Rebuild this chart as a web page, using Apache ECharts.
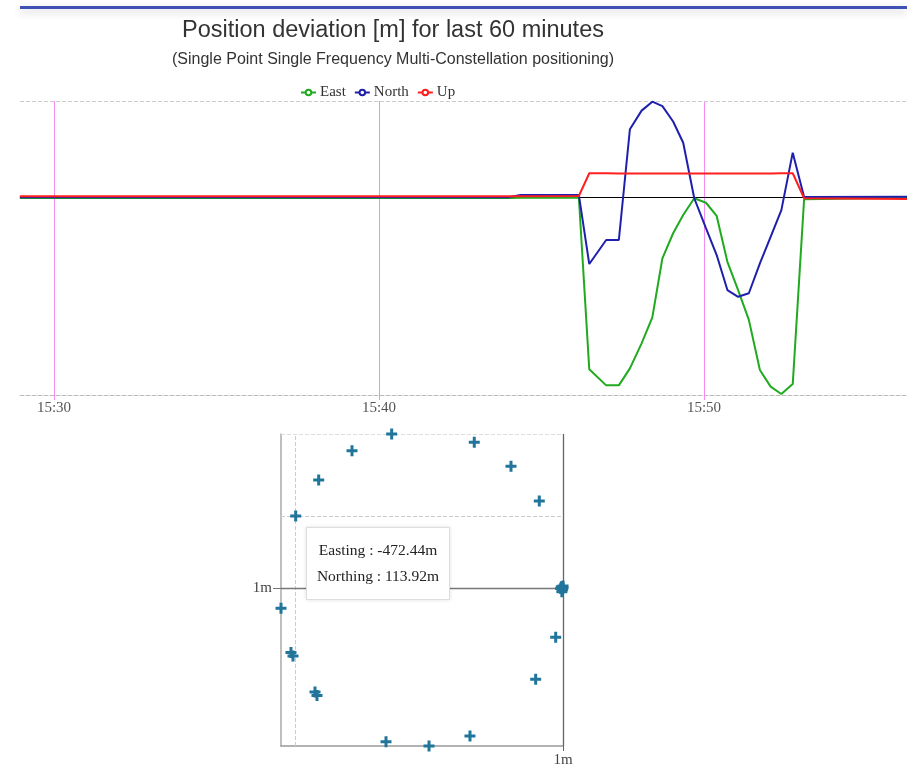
<!DOCTYPE html>
<html><head><meta charset="utf-8">
<script src="https://cdn.jsdelivr.net/npm/echarts@6/dist/echarts.min.js"></script>
<style>
html,body{margin:0;padding:0;background:#fff;}
#chart{position:absolute;left:0;top:0;width:907px;height:765px;}
#bar{position:absolute;left:20px;top:6px;width:887px;height:3px;background:#3f51b5;box-shadow:0 3px 8px rgba(0,0,0,0.22);z-index:5;}
</style></head><body>
<div id="chart"></div><div id="bar"></div>
<script>
// ---- Position deviation time series (minutes after 15:00) ----
const times = [28.95, 34, 40, 44.0, 44.35, 46.15, 46.47, 46.99, 47.38, 47.72, 48.08, 48.41, 48.72, 49.05, 49.36, 49.70, 50.06, 50.39, 50.72, 51.05, 51.38, 51.72, 52.05, 52.38, 52.73, 53.08, 56.3];
const east  = [-2, -2, -2, -2, -1.5, -1.5, -536, -586, -586, -533, -455, -374, -190, -112, -55, -3, -17, -58, -201, -289, -382, -538, -590, -613, -582, -6, -1];
const north = [0, 0, 0, 0.5, 7, 7, -208, -133, -133, 212, 270, 298, 284, 236, 170, -3, -96, -180, -289, -310, -299, -206, -123, -40, 139, 1, 2];
const up    = [3, 3, 3, 3, 3, 4, 75, 75, 74, 74, 74, 74, 74, 74, 74, 74, 74, 74, 74, 74, 74, 74, 74, 75, 75, -3, -5];
const tickMinutes = [30, 40, 50];
const tickLabels = ['15:30', '15:40', '15:50'];
const legendNames = ['East', 'North', 'Up'];

// ---- Scatter of positions (m) ----
const posEast  = [-302.8, -156.8, -372.9, -91.9, -431.8, -41.9, -472.44, 0, -3, -1, -2, 0, -4, -498.4, -12.9, -480.8, -477.2, -48.3, -438.3, -434.8, -164.4, -312.8, -236.8];
const posNorth = [243.6, 230.5, 217.2, 192.5, 170.9, 137.6, 113.92, 0, 2, -3, -6, 3, -1, -32.1, -78, -102, -107.6, -144.4, -164.5, -170.1, -234.1, -243.2, -250];
const tipIndex = 6;
const scaleTickValues = [0];
const scaleTickLabel = '1m';

const pair = (xs, ys) => xs.map((x, i) => [x, ys[i]]);
const Y_MIN = -616, Y_MAX = 300, X_MIN = 28.954, X_MAX = 56.246;
const serif = 'Liberation Serif';

function lineSeries(name, vals, color, extra) {
  return Object.assign({
    type: 'line', name, data: pair(times, vals), xAxisIndex: 0, yAxisIndex: 0,
    showSymbol: false, symbol: 'emptyCircle', symbolSize: 5,
    lineStyle: { width: 2, color }, itemStyle: { color }, z: 3
  }, extra || {});
}

const chart = echarts.init(document.getElementById('chart'), null, { renderer: 'canvas' });
const option = {
  animation: false,
  title: [
    { text: 'Position deviation [m] for last 60 minutes', left: 393, top: 19, textAlign: 'center', textVerticalAlign: 'top', padding: 0,
      textStyle: { fontFamily: 'Liberation Sans', fontSize: 23.5, fontWeight: 'normal', color: '#333' } },
    { text: '(Single Point Single Frequency Multi-Constellation positioning)', left: 393, top: 52, textAlign: 'center', textVerticalAlign: 'top', padding: 0,
      textStyle: { fontFamily: 'Liberation Sans', fontSize: 16, fontWeight: 'normal', color: '#333' } }
  ],
  legend: {
    data: legendNames, left: 300, top: 85, padding: 0, itemWidth: 15, itemHeight: 7, itemGap: 8,
    textStyle: { fontFamily: serif, fontSize: 15, color: '#333', padding: [0, 0, 0, -1] }
  },
  tooltip: {
    trigger: 'item', triggerOn: 'none', alwaysShowContent: true, transitionDuration: 0,
    position: [306, 527], backgroundColor: '#fff', borderColor: '#ddd', borderWidth: 1,
    extraCssText: 'box-sizing:border-box;width:144px;height:73px;padding:9px 0;border-radius:0;box-shadow:0 0 4px rgba(0,0,0,0.12);text-align:center;',
    textStyle: { fontFamily: serif, fontSize: 15.5, color: '#222' },
    formatter: p => '<div style="line-height:26px">Easting : ' + p.value[0].toFixed(2) + 'm<br>Northing : ' + p.value[1].toFixed(2) + 'm</div>'
  },
  grid: [
    { left: 20, right: 0, top: 101, bottom: 370, outerBoundsMode: 'none', containLabel: false },
    { left: 281, right: 344, top: 434, bottom: 19, outerBoundsMode: 'none', containLabel: false }
  ],
  xAxis: [
    { type: 'value', gridIndex: 0, min: X_MIN, max: X_MAX,
      axisLine: { onZero: false, lineStyle: { color: '#bbb', type: 'dashed', width: 1 } },
      axisTick: { customValues: tickMinutes, length: 5, lineStyle: { color: '#f38cf3' } },
      axisLabel: { customValues: tickMinutes, margin: 6, color: '#555', fontFamily: serif, fontSize: 15,
        formatter: v => tickLabels[tickMinutes.indexOf(v)] },
      splitLine: { show: false } },
    { type: 'value', gridIndex: 1, min: 'dataMin', max: 'dataMax',
      axisLine: { onZero: false, lineStyle: { color: '#999', width: 1.5 } },
      axisTick: { customValues: scaleTickValues, length: 5, lineStyle: { color: '#666' } },
      axisLabel: { customValues: scaleTickValues, margin: 7, color: '#444', fontFamily: serif, fontSize: 15, formatter: () => scaleTickLabel },
      splitLine: { show: false } }
  ],
  yAxis: [
    { type: 'value', gridIndex: 0, min: Y_MIN, max: Y_MAX, axisLine: { show: false }, axisTick: { show: false },
      axisLabel: { show: false }, splitLine: { show: false } },
    { type: 'value', gridIndex: 1, min: 'dataMin', max: 'dataMax',
      axisLine: { onZero: false, lineStyle: { color: '#aaa', width: 1.5 } },
      axisTick: { customValues: scaleTickValues, length: 8, lineStyle: { color: '#777' } },
      axisLabel: { customValues: scaleTickValues, margin: 9, color: '#444', fontFamily: serif, fontSize: 15, formatter: () => scaleTickLabel },
      splitLine: { show: false } }
  ],
  series: [
    lineSeries('East', east, '#1faa1f', {
      markLine: { silent: true, symbol: ['none', 'none'], label: { show: false }, z: 1, animation: false,
        data: tickMinutes.map(m => ({ xAxis: m, lineStyle: { color: '#f38cf3', width: 1, type: 'solid' } }))
          .concat([{ yAxis: Y_MAX, lineStyle: { color: '#ccc', width: 1, type: 'dashed' } },
                   { yAxis: 0, lineStyle: { color: '#000', width: 1, type: 'solid' } }]) }
    }),
    lineSeries('North', north, '#1f1fad'),
    lineSeries('Up', up, '#ff1f1f'),
    { type: 'scatter', name: 'pos', xAxisIndex: 1, yAxisIndex: 1, data: pair(posEast, posNorth),
      symbol: 'path://M4,0H7V4H11V7H7V11H4V7H0V4H4Z', symbolSize: 11,
      itemStyle: { color: '#21759b', opacity: 1 }, z: 3,
      markLine: { silent: true, symbol: ['none', 'none'], label: { show: false }, z: 1, animation: false,
        data: [
          { xAxis: posEast[tipIndex], lineStyle: { color: '#ccc', width: 1, type: 'dashed' } },
          { yAxis: posNorth[tipIndex], lineStyle: { color: '#ccc', width: 1, type: 'dashed' } },
          { yAxis: Math.max(...posNorth), lineStyle: { color: '#ddd', width: 1, type: 'dashed' } },
          { xAxis: 0, lineStyle: { color: '#666', width: 1.3, type: 'solid' } },
          { yAxis: 0, lineStyle: { color: '#777', width: 1.3, type: 'solid' } }
        ] } }
  ]
};
chart.setOption(option);
chart.dispatchAction({ type: 'showTip', seriesIndex: 3, dataIndex: tipIndex });
</script></body></html>
